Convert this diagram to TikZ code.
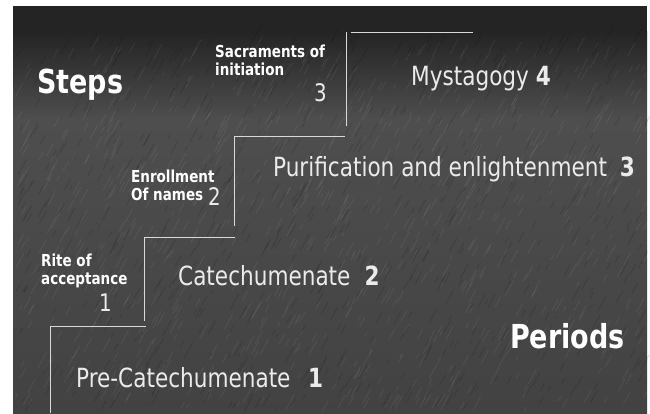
\documentclass[tikz,border=0pt]{standalone}
\usepackage{fontspec}
\setmainfont{DejaVu Sans Condensed}
\definecolor{bgtop}{HTML}{242424}
\definecolor{bgmid}{HTML}{4E4E4E}
\definecolor{bgbot}{HTML}{424242}
\newcommand{\tallish}[1]{\scalebox{1}[1.1]{#1}}
\begin{document}
\begin{tikzpicture}[x=1pt,y=-1pt,
  stair/.style={draw=black!15, line width=0.8pt},
  big/.style={text=white, font=\bfseries\fontsize{30}{32}\selectfont, inner sep=0pt, anchor=base west},
  step label/.style={text=white, font=\bfseries\fontsize{15}{17}\selectfont, inner sep=0pt, anchor=base west},
  stepnum/.style={text=black!8, font=\fontsize{22}{24}\selectfont, inner sep=0pt, anchor=base west},
  period/.style={text=black!8, font=\fontsize{24}{26}\selectfont, inner sep=0pt, anchor=base west}]
\useasboundingbox (0,0) rectangle (650,413);
\fill[white] (0,0) rectangle (650,413);
\fill[bgtop] (13,6) rectangle (647,32);
\shade[top color=bgtop, bottom color=bgmid] (13,31.5) rectangle (647,120);
\shade[top color=bgmid, bottom color=bgbot] (13,119.5) rectangle (647,413);
\pgfmathsetseed{7}
\foreach \i in {1,...,900}{
  \pgfmathsetmacro{\px}{15+630*rnd}
  \pgfmathsetmacro{\py}{50+362*rnd}
  \pgfmathsetmacro{\len}{4+12*rnd}
  \draw[white, opacity=0.07, line width=0.8pt] (\px,\py) -- ++(0.55*\len,-\len);
}
\foreach \i in {1,...,700}{
  \pgfmathsetmacro{\px}{15+630*rnd}
  \pgfmathsetmacro{\py}{40+372*rnd}
  \pgfmathsetmacro{\len}{4+12*rnd}
  \draw[black, opacity=0.12, line width=0.9pt] (\px,\py) -- ++(0.55*\len,-\len);
}
% stairs
\coordinate (h4a) at (350.5,32.3); \coordinate (h4b) at (472.7,32.3);
\coordinate (v4a) at (346,32); \coordinate (v4b) at (346,126);
\coordinate (h3a) at (234.3,136.3); \coordinate (h3b) at (345,136.3);
\coordinate (v3a) at (234.3,136); \coordinate (v3b) at (234.3,226);
\coordinate (h2a) at (144.3,237.3); \coordinate (h2b) at (235,237.3);
\coordinate (v2a) at (144.8,237); \coordinate (v2b) at (144.8,321);
\coordinate (h1a) at (50,326.3); \coordinate (h1b) at (145.7,326.3);
\coordinate (v1a) at (50,326); \coordinate (v1b) at (50,413);
\draw[stair] (h4a) -- (h4b);
\draw[stair] (v4a) -- (v4b);
\draw[stair] (h3a) -- (h3b);
\draw[stair] (v3a) -- (v3b);
\draw[stair] (h2a) -- (h2b);
\draw[stair] (v2a) -- (v2b);
\draw[stair] (h1a) -- (h1b);
\draw[stair] (v1a) -- (v1b);
% headings
\node[big] (steps) at (37,93) {\tallish{Steps}};
\node[big] (periods) at (510,348) {\tallish{Periods}};
% steps
\node[step label] (s3) at (215,57) {\tallish{Sacraments of}};
\node[step label] (s3b) at (215,75) {\tallish{initiation}};
\node[stepnum] (n3) at (314,101) {\tallish{3}};
\node[step label] (s2) at (131,182) {\tallish{Enrollment}};
\node[step label] (s2b) at (131,200) {\tallish{Of names}};
\node[stepnum] (n2) at (208,205) {\tallish{2}};
\node[step label] (s1) at (41,266) {\tallish{Rite of}};
\node[step label] (s1b) at (41,284) {\tallish{acceptance}};
\node[stepnum] (n1) at (99,311) {\tallish{1}};
% periods
\node[period] (p4) at (411,85) {\tallish{Mystagogy \textbf{4}}};
\node[period] (p3) at (273,176) {\tallish{Purification and enlightenment\hspace{0.25em} \textbf{3}}};
\node[period] (p2) at (178,285) {\tallish{Catechumenate\hspace{0.3em} \textbf{2}}};
\node[period] (p1) at (76,387) {\tallish{Pre-Catechumenate\hspace{0.45em} \textbf{1}}};
\end{tikzpicture}
\end{document}
